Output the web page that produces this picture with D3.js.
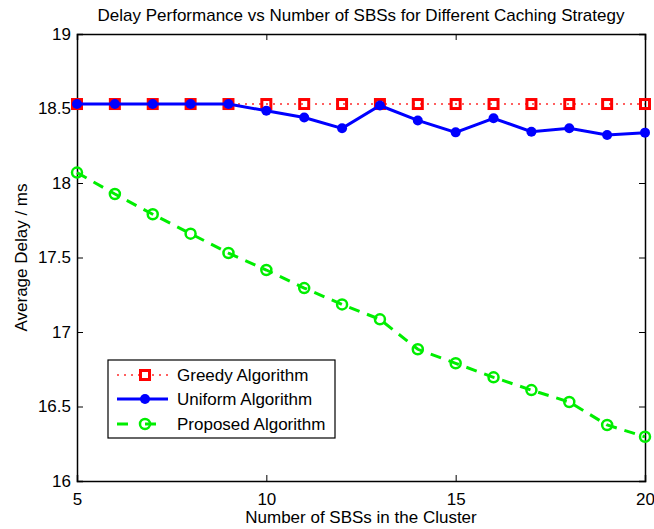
<!DOCTYPE html>
<html>
<head>
<meta charset="utf-8">
<script src="https://cdn.jsdelivr.net/npm/d3@7"></script>
<style>
  body { margin: 0; background: #fff; }
  text { font-family: "Liberation Sans", Arial, sans-serif; }
</style>
</head>
<body>
<div id="chart"></div>
<script>
const sbs = [5, 6, 7, 8, 9, 10, 11, 12, 13, 14, 15, 16, 17, 18, 19, 20];
const greedy = [18.53, 18.53, 18.53, 18.53, 18.53, 18.53, 18.53, 18.53, 18.53, 18.53, 18.53, 18.53, 18.53, 18.53, 18.53, 18.53];
const uniform = [18.53, 18.53, 18.53, 18.53, 18.53, 18.485, 18.44, 18.367, 18.52, 18.42, 18.34, 18.434, 18.344, 18.367, 18.322, 18.338];
const proposed = [18.07, 17.926, 17.79, 17.66, 17.53, 17.416, 17.295, 17.185, 17.085, 16.884, 16.79, 16.696, 16.61, 16.53, 16.376, 16.297];
const xTicks = [5, 10, 15, 20];
const yTicks = [16, 16.5, 17, 17.5, 18, 18.5, 19];

const W = 654, H = 529;
const m = { left: 77, right: 9, top: 34, bottom: 48 };
const w = W - m.left - m.right, h = H - m.top - m.bottom;
const fs = 17;

const svg = d3.select("#chart").append("svg").attr("width", W).attr("height", H);
const g = svg.append("g").attr("transform", `translate(${m.left},${m.top})`);

const x = d3.scaleLinear().domain([5, 20]).range([0, w]);
const y = d3.scaleLinear().domain([16, 19]).range([h, 0]);

// axes, matlab style: ticks point inward on all four sides
const tk = 6;
g.append("g").attr("transform", `translate(0,${h})`)
  .call(d3.axisBottom(x).tickValues(xTicks).tickSize(-tk).tickPadding(12).tickFormat(d3.format("d")));
g.append("g")
  .call(d3.axisTop(x).tickValues(xTicks).tickSize(-tk).tickFormat(""));
g.append("g")
  .call(d3.axisLeft(y).tickValues(yTicks).tickSize(-tk).tickPadding(6).tickFormat(d => d3.format("")(d)));
g.append("g").attr("transform", `translate(${w},0)`)
  .call(d3.axisRight(y).tickValues(yTicks).tickSize(-tk).tickFormat(""));
g.selectAll(".domain").attr("stroke", "#000").attr("stroke-width", 1.5);
g.selectAll(".tick line").attr("stroke", "#000");
g.selectAll(".tick text").attr("font-size", fs).attr("font-family", "Liberation Sans, Arial, sans-serif").attr("fill", "#000");

const line = d3.line().x((d, i) => x(sbs[i])).y(d => y(d));

// greedy
g.append("path").datum(greedy).attr("d", line)
  .attr("fill", "none").attr("stroke", "#ff6060").attr("stroke-width", 2).attr("stroke-dasharray", "2,5");
g.selectAll(".sq").data(greedy).enter().append("rect")
  .attr("x", (d, i) => x(sbs[i]) - 4.5).attr("y", d => y(d) - 4.5)
  .attr("width", 9).attr("height", 9)
  .attr("fill", "none").attr("stroke", "#ff0000").attr("stroke-width", 3);

// uniform
g.append("path").datum(uniform).attr("d", line)
  .attr("fill", "none").attr("stroke", "#0000ff").attr("stroke-width", 3);
g.selectAll(".dot").data(uniform).enter().append("circle")
  .attr("cx", (d, i) => x(sbs[i])).attr("cy", d => y(d)).attr("r", 5)
  .attr("fill", "#0000ff");

// proposed
g.append("path").datum(proposed).attr("d", line)
  .attr("fill", "none").attr("stroke", "#00ee00").attr("stroke-width", 3).attr("stroke-dasharray", "11,8");
g.selectAll(".ring").data(proposed).enter().append("circle")
  .attr("cx", (d, i) => x(sbs[i])).attr("cy", d => y(d)).attr("r", 5)
  .attr("fill", "none").attr("stroke", "#00ee00").attr("stroke-width", 2.5);

// title and labels
svg.append("text").attr("x", m.left + w / 2).attr("y", 21).attr("text-anchor", "middle")
  .attr("font-size", fs).text("Delay Performance vs Number of SBSs for Different Caching Strategy");
svg.append("text").attr("x", m.left + w / 2).attr("y", 523).attr("text-anchor", "middle")
  .attr("font-size", fs).text("Number of SBSs in the Cluster");
svg.append("text").attr("transform", `translate(27,${m.top + h / 2}) rotate(-90)`).attr("text-anchor", "middle")
  .attr("font-size", fs).text("Average Delay / ms");

// legend
const names = ["Greedy Algorithm", "Uniform Algorithm", "Proposed Algorithm"];
const lg = svg.append("g").attr("transform", "translate(108,360)");
lg.append("rect").attr("width", 227).attr("height", 78).attr("fill", "#fff").attr("stroke", "#000").attr("stroke-width", 1.2);
const rows = [15, 39, 64];
// greedy sample
lg.append("line").attr("x1", 9).attr("x2", 60).attr("y1", rows[0]).attr("y2", rows[0])
  .attr("stroke", "#ff6060").attr("stroke-width", 2).attr("stroke-dasharray", "2,5");
lg.append("rect").attr("x", 37 - 4.5).attr("y", rows[0] - 4.5).attr("width", 9).attr("height", 9)
  .attr("fill", "#fff").attr("stroke", "#ff0000").attr("stroke-width", 3);
// uniform sample
lg.append("line").attr("x1", 9).attr("x2", 60).attr("y1", rows[1]).attr("y2", rows[1])
  .attr("stroke", "#0000ff").attr("stroke-width", 3);
lg.append("circle").attr("cx", 37).attr("cy", rows[1]).attr("r", 5).attr("fill", "#0000ff");
// proposed sample
lg.append("line").attr("x1", 9).attr("x2", 65).attr("y1", rows[2]).attr("y2", rows[2])
  .attr("stroke", "#00ee00").attr("stroke-width", 3).attr("stroke-dasharray", "11,17");
lg.append("circle").attr("cx", 37).attr("cy", rows[2]).attr("r", 5)
  .attr("fill", "none").attr("stroke", "#00ee00").attr("stroke-width", 2.5);
lg.selectAll(".lt").data(names).enter().append("text")
  .attr("x", 69).attr("y", (d, i) => rows[i] + 6).attr("font-size", fs).text(d => d);
</script>
</body>
</html>
